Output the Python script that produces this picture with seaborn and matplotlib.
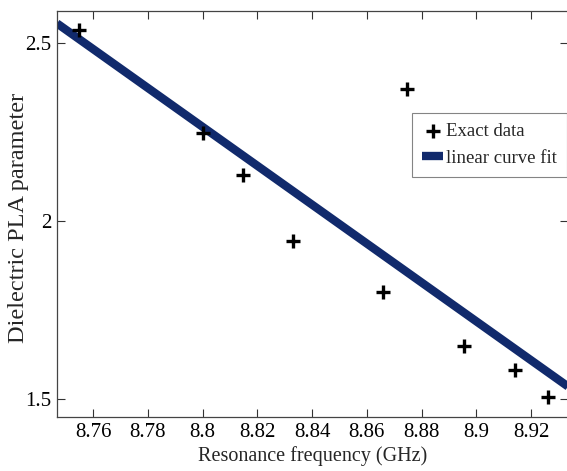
"""
Dielectric PLA parameter vs resonance frequency, with a linear least-squares fit
"""
import numpy as np
import pandas as pd
import matplotlib
matplotlib.use('Agg')
import matplotlib.pyplot as plt
import seaborn as sns

# Values
freq_ghz = [8.755, 8.800, 8.8146, 8.833, 8.8747, 8.866, 8.8956, 8.914, 8.926]
pla_param = [2.538, 2.248, 2.129, 1.943, 2.370, 1.801, 1.648, 1.580, 1.504]
x_ticks = [8.76, 8.78, 8.80, 8.82, 8.84, 8.86, 8.88, 8.90, 8.92]
x_tick_labels = ['8.76', '8.78', '8.8', '8.82', '8.84', '8.86', '8.88', '8.9', '8.92']
y_ticks = [1.5, 2.0, 2.5]
y_tick_labels = ['1.5', '2', '2.5']

df = pd.DataFrame({'freq': freq_ghz, 'pla': pla_param})

sns.set_theme(style='ticks')
plt.rcParams['font.family'] = ['Liberation Serif', 'DejaVu Serif']

fig = plt.figure(figsize=(5.67, 4.71), dpi=100)
ax = fig.add_axes([0.1005, 0.1146, 0.902, 0.862])

xlim = (8.7468, 8.9336)
ylim = (1.449, 2.59)
ax.set_xlim(xlim)
ax.set_ylim(ylim)

# Fit line across the full x range
sns.regplot(data=df, x='freq', y='pla', scatter=False, ci=None, truncate=False,
            color='#112a6c', line_kws={'linewidth': 6, 'solid_capstyle': 'butt'},
            ax=ax, label='linear curve fit')

sns.scatterplot(data=df, x='freq', y='pla', marker='+', s=90, color='black',
                linewidth=2.4, ax=ax, label='Exact data', zorder=3)

ax.set_xlim(xlim)
ax.set_ylim(ylim)

ax.set_xticks(x_ticks)
ax.set_xticklabels(x_tick_labels)
ax.set_yticks(y_ticks)
ax.set_yticklabels(y_tick_labels)
ax.tick_params(direction='in', top=True, right=True, length=6, width=0.8,
               labelsize=15, colors='#333333', labelcolor='black', pad=4)

for spine in ax.spines.values():
    spine.set_linewidth(0.9)
    spine.set_color('#444444')

ax.set_xlabel('Resonance frequency (GHz)', fontsize=14.5, labelpad=3)
ax.set_ylabel('Dielectric PLA parameter', fontsize=17.5)
ax.yaxis.set_label_coords(-0.054, 0.49)

# Legend: markers first, then the fit line
handles, labels = ax.get_legend_handles_labels()
order = [labels.index('Exact data'), labels.index('linear curve fit')]
leg = ax.legend([handles[i] for i in order], [labels[i] for i in order],
                loc='upper left', bbox_to_anchor=(0.694, 0.749), borderaxespad=0,
                fontsize=13.5, frameon=True, fancybox=False, handlelength=1.1,
                handletextpad=0.15, borderpad=0.55, labelspacing=0.5)
leg.get_frame().set_edgecolor('#666666')
leg.get_frame().set_linewidth(0.8)

plt.savefig('out.png', dpi=100)
